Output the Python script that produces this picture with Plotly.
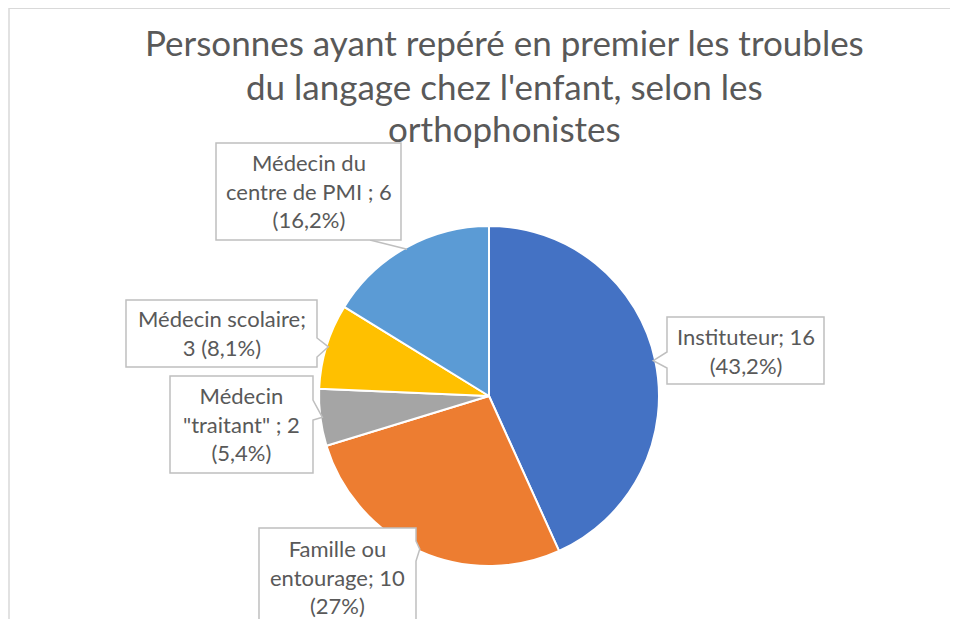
import math
import plotly.graph_objects as go

# ---- data ----
labels = ["Instituteur", "Famille ou entourage", "Médecin \"traitant\"",
          "Médecin scolaire", "Médecin du centre de PMI"]
values = [16, 10, 2, 3, 6]
colors = ["#4472C4", "#ED7D31", "#A5A5A5", "#FFC000", "#5B9BD5"]
label_texts = [
    "Instituteur; 16<br>(43,2%)",
    "Famille ou<br>entourage; 10<br>(27%)",
    "Médecin<br>\"traitant\" ; 2<br>(5,4%)",
    "Médecin scolaire;<br>3 (8,1%)",
    "Médecin du<br>centre de PMI ; 6<br>(16,2%)",
]
title_lines = ["Personnes ayant repéré en premier les troubles",
               "du langage chez l'enfant, selon les",
               "orthophonistes"]

# page body has an 8px margin: the figure starts at (8, 8) in the window
OFF = 8
W, H = 958 - OFF, 619 - OFF
FONT = "Lato"


def px(x):
    return (x - OFF) / W


def py(y):
    return 1 - (y - OFF) / H


# pie geometry (window pixels)
CX, CY, R = 489, 396, 170

fig = go.Figure(go.Pie(
    labels=labels, values=values, sort=False, direction="clockwise",
    rotation=0, textinfo="none", hoverinfo="label+value+percent",
    marker=dict(colors=colors, line=dict(color="white", width=2)),
    domain=dict(x=[px(CX - R), px(CX + R)], y=[py(CY + R), py(CY - R)]),
    showlegend=False,
))

# slice mid angles -> pointer tips
total = sum(values)
tips = []
acc = 0
for v in values:
    mid = (acc + v / 2) / total * 2 * math.pi
    acc += v
    rr = R - 2
    tips.append((CX + rr * math.sin(mid), CY - rr * math.cos(mid)))

# callout boxes: (x0, y0, x1, y1, side, base0, base1, text_center_y)
boxes = [
    (667, 317, 824, 384, "left", 352, 368, 351),
    (259, 528, 416, 640, "right", 541, 561, 577),
    (170, 376, 313, 473, "right", 400, 420, 424),
    (126, 300, 317, 367, "right", 338, 357, 333),
    (216, 143, 401, 240, "line", 370, 240, 191),
]

shapes = []
annotations = []
for (x0, y0, x1, y1, side, b0, b1, tcy), (tx, ty), txt in zip(boxes, tips, label_texts):
    if side == "right":
        pts = [(x0, y0), (x1, y0), (x1, b0), (tx, ty), (x1, b1), (x1, y1), (x0, y1)]
    elif side == "left":
        pts = [(x0, y0), (x1, y0), (x1, y1), (x0, y1), (x0, b1), (tx, ty), (x0, b0)]
    else:
        pts = [(x0, y0), (x1, y0), (x1, y1), (x0, y1)]
        shapes.append(dict(type="line", xref="paper", yref="paper",
                           x0=px(b0), y0=py(b1), x1=px(tx), y1=py(ty),
                           line=dict(color="#BFBFBF", width=1.5)))
    path = "M " + " L ".join(f"{px(a):.5f},{py(b):.5f}" for a, b in pts) + " Z"
    shapes.append(dict(type="path", xref="paper", yref="paper", path=path,
                       fillcolor="white", line=dict(color="#BFBFBF", width=1.5)))
    annotations.append(dict(text=txt, xref="paper", yref="paper",
                            x=px((x0 + x1) / 2), y=py(tcy), xanchor="center",
                            yanchor="middle", showarrow=False,
                            font=dict(family=FONT, size=22, color="#595959")))

# chart area border (top and left visible)
shapes.append(dict(type="line", xref="paper", yref="paper", x0=px(9), y0=1,
                   x1=1, y1=1, line=dict(color="#D9D9D9", width=2)))
shapes.append(dict(type="line", xref="paper", yref="paper", x0=px(9), y0=1,
                   x1=px(9), y1=0, line=dict(color="#D9D9D9", width=1.5)))

for line, yc in zip(title_lines, [42, 86, 128]):
    annotations.append(dict(text=line, xref="paper", yref="paper", x=px(504),
                            y=py(yc), xanchor="center", yanchor="middle",
                            showarrow=False,
                            font=dict(family=FONT, size=35, color="#595959")))

fig.update_layout(
    width=W, height=H, margin=dict(l=0, r=0, t=0, b=0),
    paper_bgcolor="white", plot_bgcolor="white",
    shapes=shapes, annotations=annotations,
)

fig.write_html("out.html")
